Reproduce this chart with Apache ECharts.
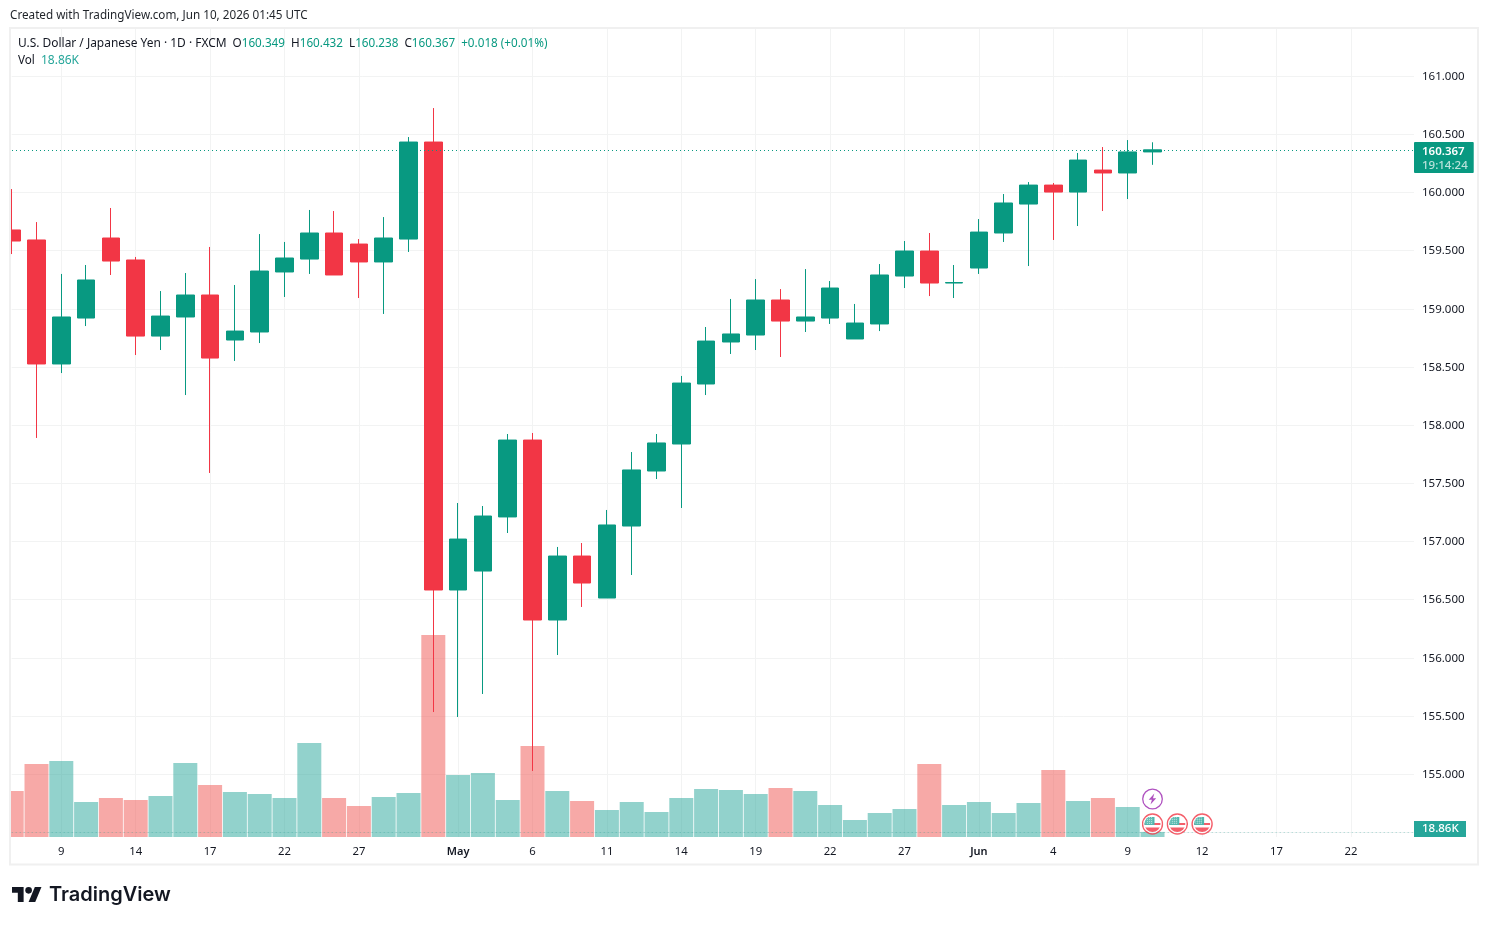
<!DOCTYPE html>
<html>
<head>
<meta charset="utf-8">
<title>USD/JPY daily</title>
<script src="https://cdn.jsdelivr.net/npm/echarts@6/dist/echarts.min.js"></script>
<style>html,body{margin:0;padding:0;background:#fff}#chart{width:1489px;height:925px}</style>
</head>
<body>
<div id="chart"></div>
<script>
const FONT = '"Noto Sans", sans-serif';
const UP = '#089981', DOWN = '#F23645';
const TEXT = '#131722', GRID = '#F2F3F3';

// Daily bars, one entry per session
const opens = [159.678,159.592,158.526,158.921,159.609,159.420,158.766,158.930,159.119,158.732,158.801,159.317,159.428,159.652,159.557,159.403,159.600,160.434,156.583,156.746,157.211,157.872,156.325,156.875,156.514,157.133,157.606,157.838,158.354,158.715,158.775,159.076,158.895,158.921,158.741,158.870,159.282,159.497,159.222,159.351,159.652,159.901,160.064,160.004,160.193,160.168,160.349];
const closes = [159.583,158.526,158.930,159.248,159.411,158.766,158.938,159.119,158.577,158.809,159.325,159.437,159.652,159.291,159.403,159.609,160.434,156.583,157.021,157.219,157.872,156.325,156.875,156.643,157.142,157.615,157.847,158.362,158.723,158.784,159.076,158.895,158.930,159.179,158.878,159.291,159.497,159.222,159.226,159.660,159.910,160.064,160.004,160.279,160.168,160.349,160.367];
const lows = [159.471,157.890,158.448,158.852,159.291,158.603,158.646,158.259,157.589,158.552,158.706,159.102,159.300,159.291,159.093,158.956,159.489,155.534,155.491,155.689,157.073,155.027,156.024,156.437,156.514,156.712,157.537,157.288,158.259,158.612,158.646,158.586,158.801,158.870,158.741,158.809,159.179,159.110,159.093,159.300,159.575,159.368,159.592,159.712,159.841,159.944,160.238];
const highs = [160.030,159.746,159.300,159.377,159.867,159.446,159.153,159.308,159.532,159.205,159.643,159.575,159.850,159.841,159.600,159.789,160.477,160.726,157.331,157.305,157.924,157.933,156.953,156.987,157.271,157.769,157.924,158.423,158.844,159.085,159.256,159.170,159.342,159.239,159.042,159.385,159.583,159.652,159.377,159.772,159.987,160.090,160.082,160.340,160.391,160.451,160.432];
// Volume in thousands
const volumes = [170.6,270.7,281.8,129.8,144.6,137.2,152.0,274.4,192.8,166.9,159.4,144.6,348.6,144.6,114.9,148.3,163.2,749.0,229.9,237.3,137.2,337.4,170.6,133.5,100.1,129.8,92.7,144.6,178.0,174.3,159.4,181.7,170.6,118.7,63.0,89.0,103.8,270.7,118.7,129.8,89.0,126.1,248.4,133.5,144.6,111.2,18.86];

// Date axis
const tickIndexes = [2,5,8,11,14,18,21,24,27,30,33,36,39,42,45,48,51,54];
const tickLabels = ['9','14','17','22','27','May','6','11','14','19','22','27','Jun','4','9','12','17','22'];
const monthLabels = ['May','Jun'];

// Calendar events on the session axis
const flagEvents = [46,47,48];
const splitEvents = [46];

const lastPrice = closes[closes.length - 1];
const lastVolume = volumes[volumes.length - 1];
const countdown = '19:14:24';
const change = '+0.018 (+0.01%)';
const symbolName = 'U.S. Dollar / Japanese Yen · 1D · FXCM';
const createdLine = 'Created with TradingView.com, Jun 10, 2026 01:45 UTC';

const xMax = 56.544;
const candles = opens.map((o, i) => [i, o, closes[i], lows[i], highs[i]]);
const volumeBars = volumes.map((v, i) => ({
  value: [i, v],
  itemStyle: { color: closes[i] >= opens[i] ? 'rgba(38,166,154,0.5)' : 'rgba(239,83,80,0.5)' }
}));

const flagIcon = 'image://data:image/svg+xml;utf8,' + encodeURIComponent(
  '<svg xmlns="http://www.w3.org/2000/svg" width="44" height="44" viewBox="0 0 22 22">' +
  '<defs><clipPath id="c"><circle cx="11" cy="11" r="8"/></clipPath></defs>' +
  '<circle cx="11" cy="11" r="10" fill="#fff" stroke="#F23645" stroke-width="1.4"/>' +
  '<g clip-path="url(#c)"><rect x="2" y="2" width="18" height="18" fill="#fff"/>' +
  '<rect x="2" y="10" width="18" height="2" fill="#F23645"/>' +
  '<rect x="2" y="14.5" width="18" height="6" fill="#F23645"/>' +
  '<rect x="2" y="4" width="11" height="8" fill="#26A69A"/>' +
  '<path d="M4 6h8M4 8h8M4 10h8M6 4v8M8 4v8M10 4v8" stroke="#fff" stroke-width=".5" stroke-dasharray="1 1"/></g></svg>');
const boltIcon = 'image://data:image/svg+xml;utf8,' + encodeURIComponent(
  '<svg xmlns="http://www.w3.org/2000/svg" width="44" height="44" viewBox="0 0 22 22">' +
  '<circle cx="11" cy="11" r="9.8" fill="#fff" stroke="#9C27B0" stroke-width="1.3"/>' +
  '<path d="M12.8 5.5 7.2 11.8h3.2l-1.4 4.7 5.7-6.3h-3.2z" fill="#9C27B0"/></svg>');

const plainAxis = { type: 'value', min: 0, max: xMax };
const headerStyles = {
  s: { fontFamily: FONT, fontSize: 11.95, color: TEXT, fontWeight: 400 },
  n: { fontFamily: FONT, fontSize: 11.7, color: TEXT, fontWeight: 400 },
  v: { fontFamily: FONT, fontSize: 11.7, color: UP, fontWeight: 400 },
  w: { fontFamily: FONT, fontSize: 12, color: '#26A69A', fontWeight: 400 }
};
const volumeLine = { color: 'rgba(38,166,154,0.4)', type: [1, 3], width: 1 };
const hiddenLine = { color: 'transparent', width: 0 };

// Last-price line, snapped to whole pixels so the dots stay crisp
function renderPriceLine(params, api) {
  const start = api.coord([api.value(0), api.value(1)]);
  const end = api.coord([xMax, api.value(1)]);
  const row = Math.round(start[1]) + 0.5;
  return {
    type: 'line',
    shape: { x1: Math.round(start[0]), y1: row, x2: Math.round(end[0]), y2: row },
    style: { stroke: UP, lineWidth: 1, lineDash: [1, 3] }
  };
}

const option = {
  animation: false,
  backgroundColor: '#fff',
  textStyle: { fontFamily: FONT },
  title: [{
    left: 18, top: 38, padding: 0,
    text: `{s|${symbolName}}{n|  O}{v|${opens.at(-1).toFixed(3)}}{n|  H}{v|${highs.at(-1).toFixed(3)}}{n|  L}{v|${lows.at(-1).toFixed(3)}}{n|  C}{v|${closes.at(-1).toFixed(3)}}{v|  ${change}}`,
    textStyle: { rich: headerStyles }
  }, {
    left: 18, top: 55, padding: 0,
    text: `{n|Vol  }{w|${lastVolume}K}`,
    textStyle: { rich: headerStyles }
  }],
  grid: [
    { left: 11.7, right: 75, top: 28, bottom: 88 },
    { left: 11.7, right: 75, top: 76.2, height: 756.1 }
  ],
  xAxis: [{
    ...plainAxis, gridIndex: 0,
    axisLine: { show: false },
    axisTick: { show: false, customValues: tickIndexes },
    splitLine: { show: true, lineStyle: { color: GRID, width: 1 } },
    axisLabel: {
      customValues: tickIndexes, margin: 9, showMinLabel: true, showMaxLabel: true,
      hideOverlap: false, color: TEXT, fontFamily: FONT, fontSize: 11.3,
      formatter: v => {
        const t = tickLabels[tickIndexes.indexOf(v)];
        return monthLabels.includes(t) ? `{m|${t}}` : t;
      },
      rich: { m: { fontFamily: FONT, fontSize: 11, fontWeight: 600, color: TEXT } }
    }
  }, {
    ...plainAxis, gridIndex: 1, show: false
  }],
  yAxis: [{
    type: 'value', gridIndex: 0, min: 0, max: 3000, show: false, splitLine: { show: false }
  }, {
    type: 'value', gridIndex: 1, position: 'right', min: 154.5, max: 161, interval: 0.5,
    axisLine: { show: false },
    axisTick: { show: false },
    splitLine: { show: true, lineStyle: { color: GRID, width: 1 } },
    axisLabel: {
      margin: 8, showMinLabel: true, showMaxLabel: true,
      formatter: v => (v === 154.5 ? '' : `{a|${v.toFixed(3)}}`),
      rich: { a: { color: TEXT, fontFamily: FONT, fontSize: 11.5, padding: [1, 0, 0, 0] } }
    }
  }],
  series: [{
    name: 'Volume', type: 'bar', xAxisIndex: 0, yAxisIndex: 0, z: 2,
    barWidth: 24, data: volumeBars,
    markLine: {
      silent: true, symbol: 'none', animation: false,
      lineStyle: volumeLine,
      data: [{ yAxis: lastVolume, lineStyle: volumeLine }],
      label: {
        position: 'end', distance: 0, offset: [0, -3],
        formatter: () => `${lastVolume}K`,
        backgroundColor: '#26A69A', color: '#fff',
        fontFamily: FONT, fontSize: 11.5, fontWeight: 500,
        padding: [2, 6, 2, 8], width: 38
      }
    }
  }, {
    name: 'USDJPY', type: 'candlestick', xAxisIndex: 1, yAxisIndex: 1, z: 3,
    barWidth: 18,
    itemStyle: { color: UP, color0: DOWN, borderColor: UP, borderColor0: DOWN, borderWidth: 1 },
    data: candles,
    markLine: {
      silent: true, symbol: 'none', animation: false, z: 6,
      lineStyle: hiddenLine,
      data: [{ yAxis: lastPrice, lineStyle: hiddenLine }],
      label: {
        position: 'end', distance: 0, offset: [0, 8],
        formatter: () => `{p|${lastPrice.toFixed(3)}}\n{t|${countdown}}`,
        backgroundColor: UP, borderRadius: 1,
        padding: [3, 6, 0, 8],
        rich: {
          p: { color: '#fff', fontFamily: FONT, fontSize: 11.5, fontWeight: 600, lineHeight: 14 },
          t: { color: 'rgba(255,255,255,0.72)', fontFamily: FONT, fontSize: 11.5, fontWeight: 500, lineHeight: 14 }
        }
      }
    }
  }, {
    name: 'Last price', type: 'custom', xAxisIndex: 1, yAxisIndex: 1, z: 4,
    silent: true, clip: false,
    encode: { x: 0, y: 1 },
    renderItem: renderPriceLine,
    data: [[0, lastPrice]]
  }, {
    name: 'Economic events', type: 'scatter', xAxisIndex: 0, yAxisIndex: 0, z: 5,
    symbol: flagIcon, symbolSize: 22, symbolOffset: [0, -13],
    data: flagEvents.map(i => [i, 0])
  }, {
    name: 'Splits', type: 'scatter', xAxisIndex: 0, yAxisIndex: 0, z: 5,
    symbol: boltIcon, symbolSize: 22, symbolOffset: [0, -38],
    data: splitEvents.map(i => [i, 0])
  }],
  graphic: [
    // Keeps the partly scrolled-in first session inside the pane
    { type: 'rect', silent: true, z: 60,
      shape: { x: 0, y: 28, width: 10.5, height: 836 },
      style: { fill: '#fff' } },
    { type: 'rect', silent: true, z: 61,
      shape: { x: 10, y: 28, width: 1468, height: 836.5 },
      style: { fill: 'none', stroke: '#F0F0F0', lineWidth: 2 } },
    { type: 'text', x: 10, y: 10, silent: true,
      style: { text: createdLine, fontFamily: FONT, fontSize: 11.7, fill: '#1f2329' } },
    { type: 'group', x: 12, y: 881.2, scaleX: 0.83, scaleY: 0.83, silent: true, children: [
      { type: 'polygon', shape: { points: [[14,25],[7,25],[7,14],[0,14],[0,7],[14,7]] }, style: { fill: '#131722' } },
      { type: 'polygon', shape: { points: [[28,25],[20,25],[27.5,7],[35.5,7]] }, style: { fill: '#131722' } },
      { type: 'circle', shape: { cx: 20, cy: 11, r: 4 }, style: { fill: '#131722' } }
    ] },
    { type: 'text', x: 49, y: 885, silent: true,
      style: { text: 'TradingView', fontFamily: '"Inter", sans-serif', fontWeight: 600, fontSize: 20, fill: '#131722' } }
  ]
};

const chart = echarts.init(document.getElementById('chart'), null, { renderer: 'canvas' });
chart.setOption(option);
</script>
</body>
</html>
